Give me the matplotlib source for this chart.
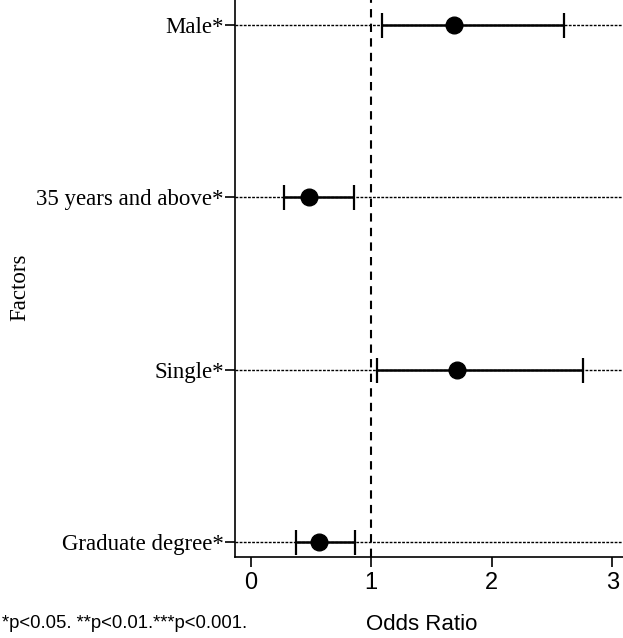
import matplotlib.pyplot as plt

# data
factors = ['Male*', '35 years and above*', 'Single*', 'Graduate degree*']
odds = [1.69, 0.48, 1.71, 0.57]
ci_low = [1.09, 0.28, 1.05, 0.38]
ci_high = [2.60, 0.86, 2.76, 0.87]
xticks = [0, 1, 2, 3]

ypos = [4, 3, 2, 1]

fig = plt.figure(figsize=(6.23, 6.38), dpi=100)
ax = fig.add_axes([235 / 623, 1 - 557 / 638, 1 - 235 / 623, 557 / 638])

# dotted grid lines per factor
for y in ypos:
    ax.axhline(y, color='black', linestyle=(0, (2, 1)), linewidth=1.0, zorder=1)

# reference line at OR = 1
ax.axvline(1, color='black', linestyle=(0, (4, 3)), linewidth=1.5, zorder=2)

err_lo = [o - l for o, l in zip(odds, ci_low)]
err_hi = [h - o for o, h in zip(odds, ci_high)]
ax.errorbar(odds, ypos, xerr=[err_lo, err_hi], fmt='o', color='black',
            markersize=12, elinewidth=1.8, capsize=9, capthick=1.6, zorder=3)

ax.set_xlim(-0.13, 3.09)
ax.set_ylim(0.913, 4.145)
ax.set_xticks(xticks)
ax.set_xticklabels([str(t) for t in xticks], family='Liberation Sans', fontsize=17)
ax.set_yticks(ypos)
ax.set_yticklabels(factors, family='Liberation Serif', fontsize=16.5)

ax.tick_params(axis='x', length=7, width=1.2, pad=4)
ax.tick_params(axis='y', length=7, width=1.2, pad=1)

ax.spines['top'].set_visible(False)
ax.spines['right'].set_visible(False)
ax.spines['left'].set_linewidth(1.2)
ax.spines['bottom'].set_linewidth(1.2)

# axis titles and footnote
fig.text(20 / 623, 1 - 287 / 638, 'Factors', family='Liberation Serif',
         fontsize=16.5, rotation=90, ha='center', va='center')
fig.text(422 / 623, 1 - 624 / 638, 'Odds Ratio', family='Liberation Sans',
         fontsize=16, ha='center', va='center')
fig.text(2 / 623, 1 - 624 / 638, '*p<0.05. **p<0.01.***p<0.001.',
         family='Liberation Sans', fontsize=13.3, ha='left', va='center')

fig.savefig('out.png', dpi=100)
